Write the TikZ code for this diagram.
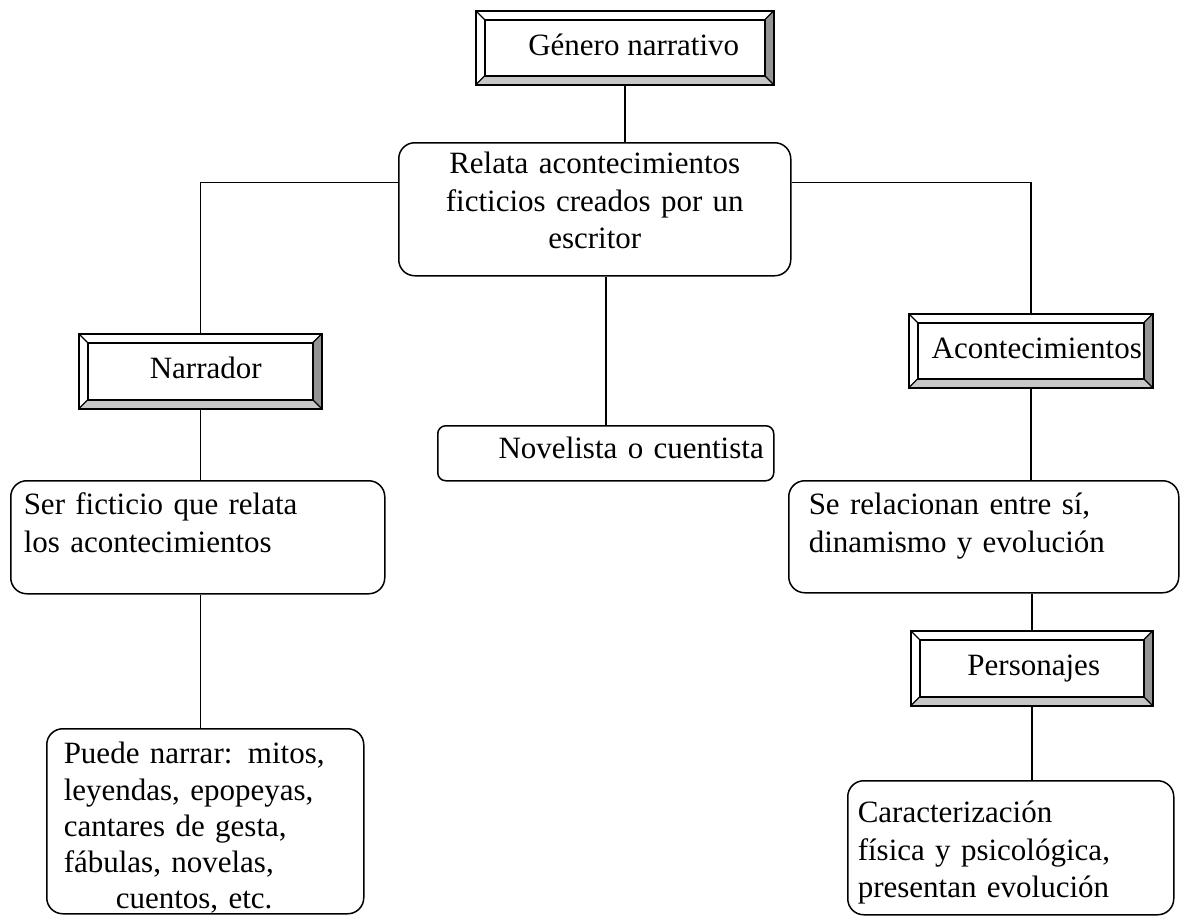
\documentclass[tikz,border=0pt]{standalone}
\usepackage{fontspec}
\setmainfont{Liberation Serif}
\usetikzlibrary{calc}
\begin{document}
\begin{tikzpicture}[x=1pt, y=-1pt, line width=1.5pt,
  every node/.style={font=\fontsize{31}{37.5}\selectfont},
  bevelbox/.style={draw, anchor=north west, inner sep=0pt, text height=22pt, text depth=7pt,
    path picture={
      \path (path picture bounding box.north west) coordinate (bnw)
            (path picture bounding box.north east) coordinate (bne)
            (path picture bounding box.south east) coordinate (bse)
            (path picture bounding box.south west) coordinate (bsw);
      \fill[black!42] (bne) -- (bse) -- ($(bse)+(-9,-9)$) -- ($(bne)+(-9,9)$) -- cycle;
      \fill[black!22] (bsw) -- (bse) -- ($(bse)+(-9,-9)$) -- ($(bsw)+(9,-9)$) -- cycle;
      \draw[line width=1.5pt] ($(bnw)+(9,9)$) rectangle ($(bse)+(-9,-9)$);
      \draw[line width=1.2pt] (bnw) -- ++(9,9) (bne) -- ++(-9,9) (bse) -- ++(-9,-9) (bsw) -- ++(9,-9);
    }},
  roundbox/.style={draw, anchor=north west, rounded corners=16pt, inner ysep=0pt, align=left}]
  \useasboundingbox (0,0) rectangle (1190,916);

  \node[bevelbox, minimum width=298pt, minimum height=74pt] (gen) at (475,10) {\hspace*{18pt}Género narrativo};
  \node[roundbox, align=center, text width=372pt, inner xsep=10pt, text height=31pt, text depth=102pt] (rel) at (398,142)
    {Relata acontecimientos\\ ficticios creados por un\\ escritor};
  \node[bevelbox, minimum width=243pt, minimum height=75pt] (nar) at (78,333) {\hspace*{11pt}Narrador};
  \node[bevelbox, minimum width=244pt, minimum height=74pt] (aco) at (908,313) {\hspace*{12pt}Acontecimientos};
  \node[roundbox, rounded corners=8pt, align=right, text width=316pt, inner xsep=10pt, text height=33pt, text depth=22pt] (nov) at (437,425)
    {Novelista o cuentista};
  \node[roundbox, text width=348pt, inner xsep=13pt, text height=34pt, text depth=79pt] (ser) at (10,480)
    {Ser ficticio que relata\\ los acontecimientos};
  \node[roundbox, text width=350pt, inner xsep=20pt, text height=34pt, text depth=78pt] (se) at (788,480)
    {Se relacionan entre sí,\\ dinamismo y evolución};
  \node[bevelbox, minimum width=242pt, minimum height=75pt] (per) at (910,630) {\hspace*{4pt}Personajes};
  \node[roundbox, font=\fontsize{31}{36.3}\selectfont, text width=283pt, inner xsep=17pt, text height=35pt, text depth=150pt] (pue) at (46,728)
    {Puede narrar: mitos,\\ leyendas, epopeyas,\\ cantares de gesta,\\ fábulas, novelas,\\ \hspace*{52pt}cuentos, etc.};
  \node[roundbox, text width=306pt, inner xsep=10pt, text height=42pt, text depth=92pt] (car) at (847,780)
    {Caracterización\\ física y psicológica,\\ presentan evolución};

  \coordinate (relw) at ($(rel.north west)!0.3!(rel.south west)$);
  \coordinate (rele) at ($(rel.north east)!0.3!(rel.south east)$);
  \draw (gen.south) -- (gen.south |- rel.north);
  \draw (relw) -| (nar.north);
  \draw (rele) -| (aco.north);
  \draw (nov.north |- rel.south) -- (nov.north);
  \draw (nar.south) -- (nar.south |- ser.north);
  \draw (nar.south |- ser.south) -- (nar.south |- pue.north);
  \draw (aco.south) -- (aco.south |- se.north);
  \draw (per.north |- se.south) -- (per.north);
  \draw (per.south) -- (per.south |- car.north);
\end{tikzpicture}
\end{document}
